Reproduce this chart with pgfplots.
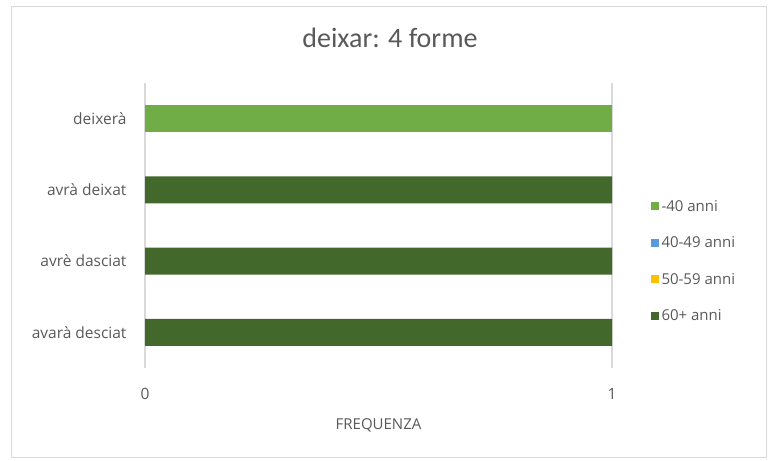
\documentclass[border=0pt]{standalone}
\usepackage{fontspec}
\setmainfont{Open Sans}
\newfontfamily\titlefont{Carlito}
\usepackage{pgfplots}
\pgfplotsset{compat=1.18}
\definecolor{cA}{HTML}{70AD47}
\definecolor{cB}{HTML}{5B9BD5}
\definecolor{cC}{HTML}{FFC000}
\definecolor{cD}{HTML}{43682B}
\definecolor{txt}{HTML}{595959}
\definecolor{grd}{HTML}{D9D9D9}
\begin{document}
\begin{tikzpicture}[x=1pt,y=1pt]
\path (0,0) rectangle (770,460);
\draw[grd, line width=1pt] (11,3) rectangle (766,453);
\begin{axis}[
  at={(145pt,92pt)}, anchor=south west,
  scale only axis, width=467pt, height=285pt,
  xmin=0, xmax=1, ymin=-0.5, ymax=3.5,
  axis line style={draw=none}, major tick length=0pt,
  xtick={0,1}, xmajorgrids, major grid style={grd, line width=1.2pt},
  ytick={0,1,2,3},
  yticklabels={avarà desciat, avrè dasciat, avrà deixat, deixerà},
  tick label style={font=\fontsize{15.5}{17}\selectfont, text=txt},
  /pgf/number format/assume math mode=true,
  x tick label style={anchor=center, yshift=-26pt},
  y tick label style={anchor=east, xshift=-15pt},
  xbar, bar width=27pt, bar shift=0pt,
  xlabel={FREQUENZA},
  xlabel style={at={(axis description cs:0.5,0)}, anchor=center, yshift=-57pt, font=\fontsize{15}{17}\selectfont, text=txt},
  title={\titlefont deixar: 4 forme},
  title style={at={(axis description cs:0.5246,1)}, anchor=center, yshift=39pt, font=\fontsize{28}{30}\selectfont, text=txt},
  legend style={at={(1.082,0.375)}, anchor=west, draw=none, fill=none,
    font=\fontsize{15}{17}\selectfont, text=txt, row sep=18pt, inner sep=0pt,
    nodes={inner sep=3pt}},
  legend cell align=left,
  legend image code/.code={\fill[#1] (0pt,-4pt) rectangle (8pt,4pt);},
]
\addplot[fill=cA, draw=none] coordinates {(1,3)};
\addlegendentry{-40 anni}
\addlegendimage{fill=cB, draw=none}
\addlegendentry{40-49 anni}
\addlegendimage{fill=cC, draw=none}
\addlegendentry{50-59 anni}
\addplot[fill=cD, draw=none] coordinates {(1,0) (1,1) (1,2)};
\addlegendentry{60+ anni}
\end{axis}
\end{tikzpicture}
\end{document}
